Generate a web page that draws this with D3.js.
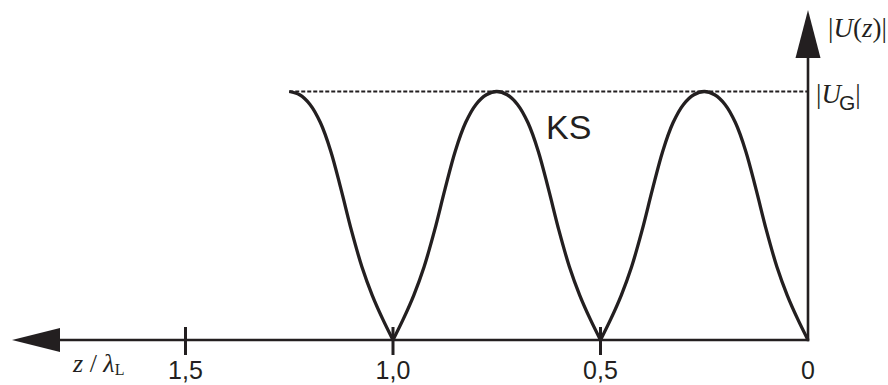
<!DOCTYPE html>
<html>
<head>
<meta charset="utf-8">
<script src="https://cdn.jsdelivr.net/npm/d3@7"></script>
<style>
  html, body { margin: 0; padding: 0; background: #fff; }
  svg { display: block; }
</style>
</head>
<body>
<svg id="chart" width="888" height="385"></svg>
<script>
// Data: |U(z)| / |U_G| along z / lambda_L (short circuit, KS)
const zPos = [0, 0.025, 0.05, 0.075, 0.1, 0.125, 0.15, 0.175, 0.2, 0.225,
              0.25, 0.275, 0.3, 0.325, 0.35, 0.375, 0.4, 0.425, 0.45, 0.475,
              0.5, 0.525, 0.55, 0.575, 0.6, 0.625, 0.65, 0.675, 0.7, 0.725,
              0.75, 0.775, 0.8, 0.825, 0.85, 0.875, 0.9, 0.925, 0.95, 0.975,
              1.0, 1.025, 1.05, 1.075, 1.1, 1.125, 1.15, 1.175, 1.2, 1.225,
              1.25];
const uMag = [0, 0.085, 0.18, 0.295, 0.44, 0.605, 0.76, 0.875, 0.948, 0.987,
              1.0, 0.987, 0.948, 0.875, 0.76, 0.605, 0.44, 0.295, 0.18, 0.085,
              0, 0.085, 0.18, 0.295, 0.44, 0.605, 0.76, 0.875, 0.948, 0.987,
              1.0, 0.987, 0.948, 0.875, 0.76, 0.605, 0.44, 0.295, 0.18, 0.085,
              0, 0.085, 0.18, 0.295, 0.44, 0.605, 0.76, 0.875, 0.948, 0.987,
              1.0];
const tickValues = [0, 0.5, 1.0, 1.5];
const tickLabels = ["0", "0,5", "1,0", "1,5"];
const ugLevel = 1.0;
const curveLabel = "KS";

const ink = "#231f20";
const svg = d3.select("#chart");

const x = d3.scaleLinear().domain([0, 1]).range([808, 393]);
const y = d3.scaleLinear().domain([0, 1]).range([340, 91.5]);

// dashed |U_G| reference line
svg.append("line")
  .attr("x1", x(1.25)).attr("x2", x(0))
  .attr("y1", y(ugLevel)).attr("y2", y(ugLevel))
  .attr("stroke", ink).attr("stroke-width", 2)
  .attr("stroke-dasharray", "4,2");

// split the curve into lobes at the zeros so the cusps stay sharp
const pts = zPos.map((z, i) => [z, uMag[i]]);
const segments = [];
let cur = [];
pts.forEach((p) => {
  cur.push(p);
  if (p[1] === 0 && cur.length > 1) { segments.push(cur); cur = [p]; }
});
if (cur.length > 1) segments.push(cur);

const line = d3.line()
  .x(d => x(d[0])).y(d => y(d[1]))
  .curve(d3.curveCatmullRom.alpha(0.5));

svg.selectAll("path.lobe").data(segments).join("path")
  .attr("class", "lobe")
  .attr("d", line)
  .attr("fill", "none")
  .attr("stroke", ink)
  .attr("stroke-width", 3.3)
  .attr("stroke-linejoin", "miter");

// x axis (pointing left)
svg.append("line")
  .attr("x1", 58).attr("x2", x(0) + 1.2)
  .attr("y1", y(0)).attr("y2", y(0))
  .attr("stroke", ink).attr("stroke-width", 2.6);
svg.append("path")
  .attr("d", `M12,${y(0)} L60,${y(0) - 12} L60,${y(0) + 12} Z`)
  .attr("fill", ink);

// y axis (pointing up)
svg.append("line")
  .attr("x1", x(0)).attr("x2", x(0))
  .attr("y1", y(0) + 1.3).attr("y2", 56)
  .attr("stroke", ink).attr("stroke-width", 2.6);
svg.append("path")
  .attr("d", `M${x(0)},10 L${x(0) - 12.5},58 L${x(0) + 12.5},58 Z`)
  .attr("fill", ink);

// ticks
svg.selectAll("line.tick").data(tickValues.filter(v => v > 0)).join("line")
  .attr("class", "tick")
  .attr("x1", d => x(d)).attr("x2", d => x(d))
  .attr("y1", y(0) - 13).attr("y2", y(0) + 15)
  .attr("stroke", ink).attr("stroke-width", 3);

// tick labels
svg.selectAll("text.tl").data(tickValues).join("text")
  .attr("class", "tl")
  .attr("x", d => x(d)).attr("y", 379)
  .attr("text-anchor", "middle")
  .attr("font-family", "'Liberation Sans', Arial, sans-serif")
  .attr("font-size", 25)
  .attr("fill", ink)
  .text((d, i) => tickLabels[i]);

// x axis title: z / λL
const xt = svg.append("text")
  .attr("x", 73).attr("y", 372)
  .attr("font-family", "'Liberation Serif', 'Times New Roman', serif")
  .attr("font-size", 26)
  .attr("fill", ink);
xt.append("tspan").attr("font-style", "italic").text("z");
xt.append("tspan").text(" / ");
xt.append("tspan").attr("font-style", "italic").text("λ");
xt.append("tspan").attr("font-size", 16).attr("dy", 3).text("L");

// y axis title |U(z)|
const yt = svg.append("text")
  .attr("x", 828).attr("y", 37)
  .attr("font-family", "'Liberation Serif', 'Times New Roman', serif")
  .attr("font-size", 27)
  .attr("fill", ink);
yt.append("tspan").text("|");
yt.append("tspan").attr("font-style", "italic").text("U");
yt.append("tspan").text("(");
yt.append("tspan").attr("font-style", "italic").text("z");
yt.append("tspan").text(")|");

// |U_G| label
const ug = svg.append("text")
  .attr("x", 816).attr("y", 103)
  .attr("font-family", "'Liberation Serif', 'Times New Roman', serif")
  .attr("font-size", 27)
  .attr("fill", ink);
ug.append("tspan").text("|");
ug.append("tspan").attr("font-style", "italic").text("U");
ug.append("tspan").attr("font-family", "'Liberation Sans', Arial, sans-serif")
  .attr("font-size", 21).attr("dy", 7).attr("dx", -2).text("G");
ug.append("tspan").attr("dy", -7).text("|");

// curve label
svg.append("text")
  .attr("x", 546).attr("y", 139)
  .attr("font-family", "'Liberation Sans', Arial, sans-serif")
  .attr("font-size", 34)
  .attr("fill", ink)
  .text(curveLabel);
</script>
</body>
</html>
